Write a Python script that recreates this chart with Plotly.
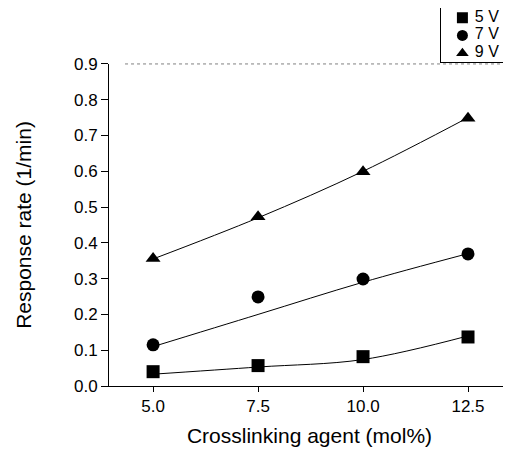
import plotly.graph_objects as go

x = [5.0, 7.5, 10.0, 12.5]
names = ["5 V", "7 V", "9 V"]
y5 = [0.040, 0.057, 0.082, 0.137]
y7 = [0.115, 0.249, 0.299, 0.369]
y9 = [0.356, 0.473, 0.599, 0.748]
fit5 = [0.033, 0.053, 0.074, 0.140]
fit7 = [0.110, 0.200, 0.290, 0.370]
fit9 = [0.355, 0.470, 0.600, 0.750]
symbols = ["square", "circle", "triangle-up"]
xticks = [5.0, 7.5, 10.0, 12.5]
xticklabels = ["5.0", "7.5", "10.0", "12.5"]
yticks = [0.0, 0.1, 0.2, 0.3, 0.4, 0.5, 0.6, 0.7, 0.8, 0.9]

fig = go.Figure()
for ys, fs, nm, sym in zip([y5, y7, y9], [fit5, fit7, fit9], names, symbols):
    fig.add_trace(go.Scatter(x=x, y=fs, mode="lines", line=dict(color="black", width=1, shape="spline"),
                             showlegend=False, hoverinfo="skip"))
    fig.add_trace(go.Scatter(x=x, y=ys, mode="markers", name=nm, showlegend=False,
                             marker=dict(symbol=sym, color="black", size=13)))

# legend key drawn in its own small boxed subplot
fig.add_trace(go.Scatter(x=[0.31] * len(names), y=names, mode="markers", xaxis="x2", yaxis="y2",
                         marker=dict(symbol=symbols, color="black", size=11), showlegend=False,
                         hoverinfo="skip"))
fig.add_trace(go.Scatter(x=[0.49] * len(names), y=names, mode="text", text=names,
                         textposition="middle right", textfont=dict(size=16),
                         xaxis="x2", yaxis="y2", showlegend=False, hoverinfo="skip"))

fig.update_layout(
    width=503, height=442,
    margin=dict(l=101, r=1, t=0, b=64, autoexpand=False),
    plot_bgcolor="white", paper_bgcolor="white",
    font=dict(family="Liberation Sans, Arial, sans-serif", size=17, color="black"),
    showlegend=False,
    xaxis=dict(range=[3.95, 13.5], tickvals=xticks, ticktext=xticklabels,
               showgrid=False, zeroline=False, showline=True, linecolor="black", linewidth=1,
               ticks="outside", ticklen=5, tickcolor="black",
               title=dict(text="Crosslinking agent (mol%)", font=dict(size=21), standoff=12)),
    yaxis=dict(domain=[0, 0.852], range=[0, 0.9], tickvals=yticks, tickformat=".1f",
               showgrid=False, zeroline=False, showline=True, linecolor="black", linewidth=1,
               ticks="outside", ticklen=7, tickcolor="black",
               title=dict(text="Response rate (1/min)", font=dict(size=21), standoff=36)),
    xaxis2=dict(domain=[0.828, 1.0], range=[0, 1], anchor="y2", showgrid=False, zeroline=False,
                showticklabels=False, ticks="", showline=True, mirror=True, linecolor="black",
                linewidth=1, fixedrange=True),
    yaxis2=dict(domain=[0.857, 1.0], type="category", categoryarray=names, range=[2.5, -0.55],
                anchor="x2", showgrid=False, zeroline=False, showticklabels=False, ticks="",
                showline=True, mirror=True, linecolor="black", linewidth=1, fixedrange=True),
    shapes=[dict(type="line", xref="x domain", yref="y domain", x0=0.04, x1=1, y0=1, y1=1,
                 line=dict(color="gray", width=1, dash="dot"), layer="below")],
)
fig.write_html("out.html")
